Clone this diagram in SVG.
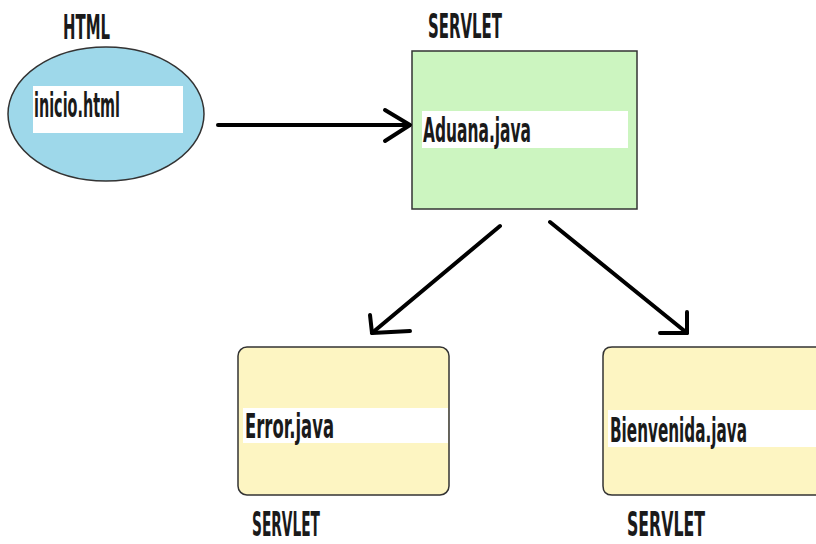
<svg xmlns="http://www.w3.org/2000/svg" width="816" height="544" viewBox="0 0 816 544">
<style>
.lbl{font-family:"DejaVu Sans Condensed","Liberation Sans Narrow","Liberation Sans",sans-serif;font-weight:bold;fill:#1a1a1a;font-size:33px}
.band{fill:#ffffff}
.edge{fill:none;stroke:#000;stroke-width:4;stroke-linecap:round;stroke-linejoin:round}
.node{stroke:#333;stroke-width:1.5}
</style>
<rect width="816" height="544" fill="#ffffff"/>
<g id="html">
<text class="lbl" x="63" y="39" textLength="47" lengthAdjust="spacingAndGlyphs" font-size="29">HTML</text>
<ellipse class="node" cx="106" cy="114" rx="98" ry="67" fill="#9ed8ea"/>
<rect class="band" x="33" y="86" width="150" height="47"/>
<text class="lbl" x="34" y="117" textLength="86" lengthAdjust="spacingAndGlyphs">inicio.html</text>
</g>
<g id="aduana">
<text class="lbl" x="428" y="38" textLength="74" lengthAdjust="spacingAndGlyphs">SERVLET</text>
<rect class="node" x="412" y="51" width="225" height="158" fill="#ccf5c0"/>
<rect class="band" x="422" y="111" width="206" height="37"/>
<text class="lbl" x="423" y="142" textLength="108" lengthAdjust="spacingAndGlyphs">Aduana.java</text>
</g>
<g id="error">
<rect class="node" x="238" y="347" width="211" height="148" rx="9" fill="#fdf5c2"/>
<rect class="band" x="243" y="408" width="205" height="35"/>
<text class="lbl" x="245" y="438" textLength="89" lengthAdjust="spacingAndGlyphs" font-size="31">Error.java</text>
<text class="lbl" x="252" y="536" textLength="68" lengthAdjust="spacingAndGlyphs" font-size="30">SERVLET</text>
</g>
<g id="bienvenida">
<path class="node" d="M816 347 L612 347 Q603 347 603 356 L603 486 Q603 495 612 495 L816 495" fill="#fdf5c2"/>
<rect class="band" x="608" y="410" width="208" height="37"/>
<text class="lbl" transform="scale(0.6 1)" x="1016.67" y="442" textLength="228.33" lengthAdjust="spacingAndGlyphs">Bienvenida.java</text>
<text class="lbl" transform="scale(0.6 1)" x="1045" y="536" textLength="130" lengthAdjust="spacingAndGlyphs" font-size="31">SERVLET</text>
</g>
<g id="connectors">
<path class="edge" d="M218 125 L408 125"/>
<path class="edge" d="M385 110 L410 125 L385 141"/>
<path class="edge" d="M500 226 L372 333"/>
<path class="edge" d="M370 315 L372 333 L410 331"/>
<path class="edge" d="M550 222 L687 333"/>
<path class="edge" d="M687 312 L687 333 L660 333"/>
</g>
</svg>
